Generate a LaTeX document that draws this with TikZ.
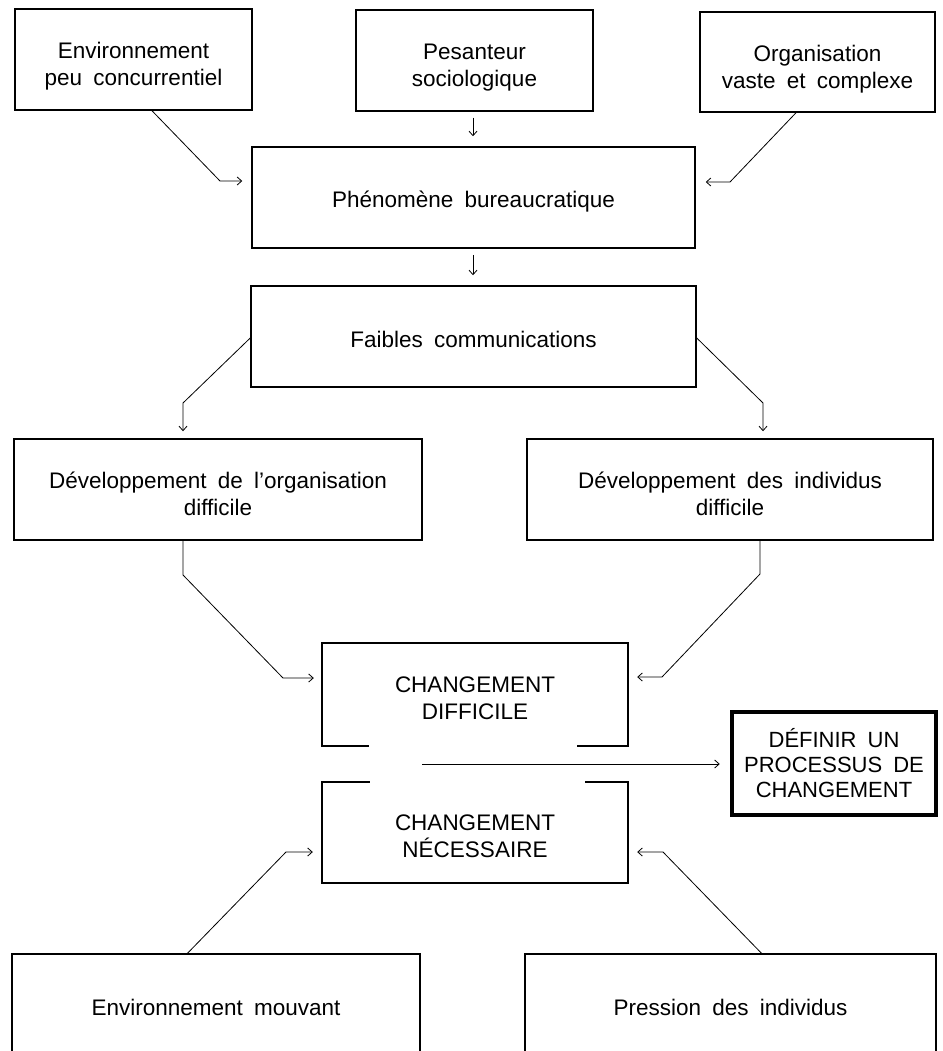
\documentclass[tikz,border=0pt]{standalone}
\usepackage{fontspec}
\setmainfont{Liberation Sans}[WordSpace=1.8]
\usetikzlibrary{arrows.meta,calc}
\begin{document}
\begin{tikzpicture}[x=1pt,y=-1pt,
  txt/.style={align=center,font=\fontsize{22.5}{27}\selectfont,inner sep=0pt},
  box/.style={draw,line width=1.5pt,inner sep=0pt},
  openbox/.style={line width=1.5pt},
  conn/.style={line width=0.8pt},
  arr/.style={conn,-{Straight Barb[length=4.5pt,width=8pt]}},
  thickbox/.style={txt,draw,line width=4.5pt}]
\path[use as bounding box,fill=white] (0,0) rectangle (942,1051);

% top row
\node[box,minimum width=237pt,minimum height=101pt] (env) at (133.5,59.5) {};
\node[txt] (envT) at ([yshift=-7pt]env.center) {Environnement\\peu concurrentiel};
\node[box,minimum width=237pt,minimum height=101pt] (pes) at (474.5,60.5) {};
\node[txt] (pesT) at ([yshift=-7pt]pes.center) {Pesanteur\\sociologique};
\node[box,minimum width=235pt,minimum height=100pt] (org) at (817.5,62) {};
\node[txt] (orgT) at ([yshift=-7pt]org.center) {Organisation\\vaste et complexe};

\node[box,minimum width=443pt,minimum height=101pt] (phen) at (473.5,197.5) {};
\node[txt] (phenT) at ([yshift=-4pt]phen.center) {Phénomène bureaucratique};
\node[box,minimum width=445pt,minimum height=101pt] (faib) at (473.5,336.5) {};
\node[txt] (faibT) at ([yshift=-3pt]faib.center) {Faibles communications};

\node[box,minimum width=408pt,minimum height=101pt] (devorg) at (218,489.5) {};
\node[txt] (devorgT) at ([yshift=-4pt]devorg.center) {Développement de l'organisation\\difficile};
\node[box,minimum width=406pt,minimum height=101pt] (devind) at (730,489.5) {};
\node[txt] (devindT) at ([yshift=-4pt]devind.center) {Développement des individus\\difficile};

% open boxes
\node[minimum width=306pt,minimum height=103pt,inner sep=0pt] (cd) at (475,694.5) {};
\node[txt] (cdT) at ([yshift=-4pt]cd.center) {CHANGEMENT\\DIFFICILE};
\draw[openbox] ($(cd.south west)+(47,0)$) -- (cd.south west) -- (cd.north west) -- (cd.north east) -- (cd.south east) -- ++(-51,0);
\node[minimum width=306pt,minimum height=101pt,inner sep=0pt] (cn) at (475,832.5) {};
\node[txt] (cnT) at ([yshift=-4pt]cn.center) {CHANGEMENT\\NÉCESSAIRE};
\draw[openbox] ($(cn.north west)+(48,0)$) -- (cn.north west) -- (cn.south west) -- (cn.south east) -- (cn.north east) -- ++(-43,0);

\node[thickbox,minimum width=204pt,minimum height=103pt,font=\fontsize{22}{25}\selectfont] (def) at (834,763.5) {DÉFINIR UN\\PROCESSUS DE\\CHANGEMENT};

% bottom boxes (cut by the page edge)
\node[txt,minimum width=408pt,minimum height=106pt] (envm) at (216,1007) {Environnement mouvant};
\draw[openbox] (envm.north west |- 0,1060) -- (envm.north west) -- (envm.north east) -- (envm.north east |- 0,1060);
\node[txt,minimum width=411pt,minimum height=106pt] (press) at (730.5,1007) {Pression des individus};
\draw[openbox] (press.north west |- 0,1060) -- (press.north west) -- (press.north east) -- (press.north east |- 0,1060);

% connectors
\draw[arr,shorten >=9pt] (env.south -| 152,0) -- (220,181) -- (phen.west |- 0,181);
\draw[arr,shorten <=6pt,shorten >=10pt] (pes.south -| 473,0) -- (phen.north -| 473,0);
\draw[arr,shorten >=10pt] (org.south -| 796,0) -- (730,182) -- (phen.east |- 0,182);
\draw[arr,shorten <=6pt,shorten >=10pt] (phen.south -| 473,0) -- (faib.north -| 473,0);
\draw[arr,shorten >=7pt] (faib.west |- 0,338) -- (183,403) -- (devorg.north -| 183,0);
\draw[arr,shorten >=7pt] (faib.east |- 0,338) -- (763,403) -- (devind.north -| 763,0);
\draw[arr,shorten >=8pt] (devorg.south -| 183,0) -- (183,575) -- (283,678) -- (cd.west |- 0,678);
\draw[arr,shorten >=9pt] (devind.south -| 760,0) -- (760,574) -- (662,677) -- (cd.east |- 0,677);
\coordinate (split) at ($(cd.south)!0.5!(cn.north)+(-53,0)$);
\draw[arr,shorten >=10pt] (split) -- (def.west |- split);
\draw[arr,shorten >=9pt] (envm.north -| 187,0) -- (286,852) -- (cn.west |- 0,852);
\draw[arr,shorten >=9pt] (press.north -| 762,0) -- (663,852) -- (cn.east |- 0,852);
\end{tikzpicture}
\end{document}
